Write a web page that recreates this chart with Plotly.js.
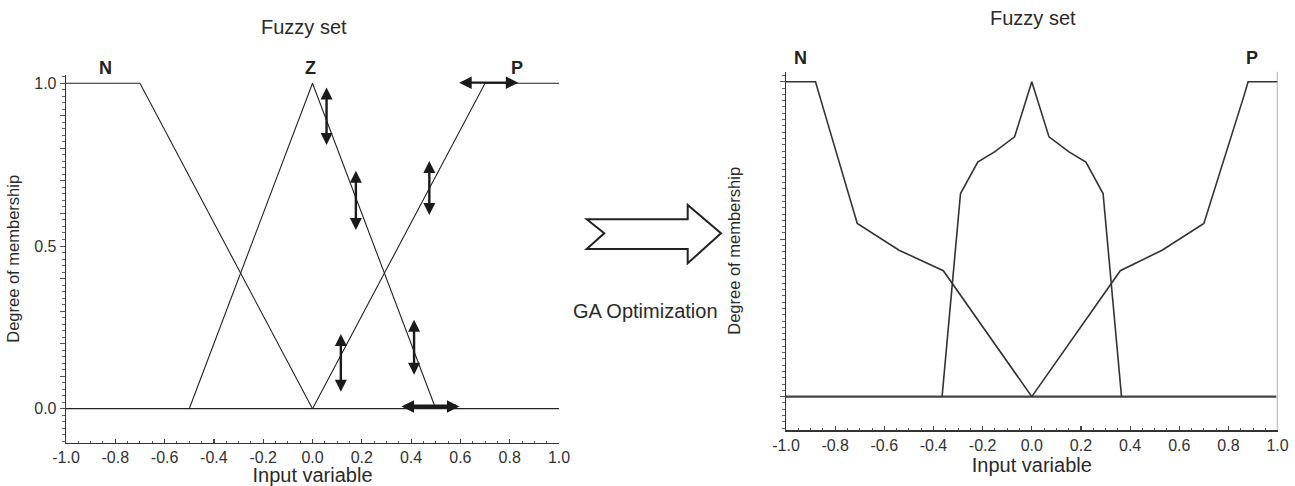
<!DOCTYPE html>
<html>
<head>
<meta charset="utf-8">
<script src="https://cdn.plot.ly/plotly-3.0.1.min.js"></script>
<style>html,body{margin:0;padding:0;background:#fff;}#chart{width:1295px;height:486px;}</style>
</head>
<body>
<div id="chart"></div>
<script>
// ---- Data: initial fuzzy sets (left) ----
const leftN_x = [-1, -0.7, 0];
const leftN_y = [1, 1, 0];
const leftZ_x = [-0.5, 0, 0.5];
const leftZ_y = [0, 1, 0];
const leftP_x = [0, 0.7, 1];
const leftP_y = [0, 1, 1];
const base_x = [-1, 1];
const base_y = [0, 0];

// ---- Data: GA-optimized fuzzy sets (right) ----
const rightN_x = [-1, -0.88, -0.865, -0.71, -0.54, -0.36, 0];
const rightN_y = [1, 1, 0.96, 0.55, 0.465, 0.40, 0];
const rightZ_x = [-0.365, -0.29, -0.22, -0.15, -0.07, 0, 0.07, 0.15, 0.22, 0.29, 0.365];
const rightZ_y = [0, 0.645, 0.745, 0.778, 0.825, 1, 0.825, 0.778, 0.745, 0.645, 0];
const rightP_x = [0, 0.36, 0.53, 0.70, 0.865, 0.88, 1];
const rightP_y = [0, 0.40, 0.465, 0.55, 0.96, 1, 1];
const rightBase_x = [-1, 0.995];
const rightBase_y = [0, 0];

// ---- Adjustment arrows on left plot (vertical) ----
const vArrowX  = [0.057, 0.176, 0.474, 0.115, 0.412];
const vArrowY0 = [0.992, 0.736, 0.766, 0.234, 0.278];
const vArrowY1 = [0.810, 0.549, 0.595, 0.052, 0.104];
// horizontal arrows
const hArrowY  = [1.002, 0.007];
const hArrowX0 = [0.589, 0.355];
const hArrowX1 = [0.835, 0.596];
const hArrowW  = [2.4, 4];

// ---- Labels ----
const leftSetNames = ['N', 'Z', 'P'];
const leftSetLabelX = [-0.84, -0.01, 0.83];
const rightSetNames = ['N', 'P'];
const rightSetLabelX = [-0.94, 0.897];

// ---- Ticks ----
const xTickVals = [-1, -0.8, -0.6, -0.4, -0.2, 0, 0.2, 0.4, 0.6, 0.8, 1];
const xTickText = ['-1.0', '-0.8', '-0.6', '-0.4', '-0.2', '0.0', '0.2', '0.4', '0.6', '0.8', '1.0'];
const yTickVals = [0, 0.1, 0.2, 0.3, 0.4, 0.5, 0.6, 0.7, 0.8, 0.9, 1];
const yTickText = ['0.0', '', '', '', '', '0.5', '', '', '', '', '1.0'];

// ---- Block arrow (page pixels) ----
const blockPx = [586.7, 604.3, 586.7, 687.7, 687.7, 721, 687.7, 687.7];
const blockPy = [219.3, 233.3, 249, 249, 263.3, 233.3, 205, 219.3];

const W = 1295, H = 486;
const FONT = 'Arial, "Liberation Sans", sans-serif';
const TXT = '#2a2a2a';

function line(x, y, xa, ya, color, width) {
  return {type: 'scatter', mode: 'lines', x: x, y: y, xaxis: xa, yaxis: ya,
          line: {color: color, width: width}, hoverinfo: 'skip'};
}

const traces = [
  line(base_x, base_y, 'x', 'y', '#222', 1.3),
  line(leftN_x, leftN_y, 'x', 'y', '#222', 1.1),
  line(leftZ_x, leftZ_y, 'x', 'y', '#222', 1.1),
  line(leftP_x, leftP_y, 'x', 'y', '#222', 1.1),
  line(rightBase_x, rightBase_y, 'x2', 'y2', '#444', 2.4),
  line(rightN_x, rightN_y, 'x2', 'y2', '#333', 1.6),
  line(rightZ_x, rightZ_y, 'x2', 'y2', '#333', 1.6),
  line(rightP_x, rightP_y, 'x2', 'y2', '#333', 1.6)
];

const annotations = [];
for (let i = 0; i < vArrowX.length; i++) {
  annotations.push({xref: 'x', yref: 'y', axref: 'x', ayref: 'y',
    x: vArrowX[i], y: vArrowY1[i], ax: vArrowX[i], ay: vArrowY0[i],
    text: '', showarrow: true, arrowside: 'end+start', arrowhead: 2,
    arrowsize: 1.0, arrowwidth: 2.4, arrowcolor: '#1a1a1a', standoff: 0, startstandoff: 0});
}
for (let i = 0; i < hArrowY.length; i++) {
  annotations.push({xref: 'x', yref: 'y', axref: 'x', ayref: 'y',
    x: hArrowX1[i], y: hArrowY[i], ax: hArrowX0[i], ay: hArrowY[i],
    text: '', showarrow: true, arrowside: 'end+start', arrowhead: 2,
    arrowsize: 2.5 / hArrowW[i], arrowwidth: hArrowW[i], arrowcolor: '#1a1a1a', standoff: 0, startstandoff: 0});
}
leftSetNames.forEach((t, i) => annotations.push({xref: 'x', yref: 'paper', x: leftSetLabelX[i], y: 1 - 67.8 / H,
  xanchor: 'center', yanchor: 'middle',
  text: '<b>' + t + '</b>', showarrow: false, font: {family: FONT, size: 18, color: '#222'}}));
rightSetNames.forEach((t, i) => annotations.push({xref: 'x2', yref: 'paper', x: rightSetLabelX[i], y: 1 - 58.3 / H,
  xanchor: 'center', yanchor: 'middle',
  text: '<b>' + t + '</b>', showarrow: false, font: {family: FONT, size: 18, color: '#222'}}));
annotations.push({xref: 'paper', yref: 'paper', x: 304 / W, y: 1 - 27 / H, xanchor: 'center', yanchor: 'middle',
  text: 'Fuzzy set', showarrow: false, font: {family: FONT, size: 20, color: TXT}});
annotations.push({xref: 'paper', yref: 'paper', x: 1033 / W, y: 1 - 18.3 / H, xanchor: 'center', yanchor: 'middle',
  text: 'Fuzzy set', showarrow: false, font: {family: FONT, size: 20, color: TXT}});
annotations.push({xref: 'paper', yref: 'paper', x: 645.7 / W, y: 1 - 311 / H, xanchor: 'center', yanchor: 'middle',
  text: 'GA Optimization', showarrow: false, font: {family: FONT, size: 20, color: TXT}});

let path = '';
for (let i = 0; i < blockPx.length; i++) {
  path += (i === 0 ? 'M' : 'L') + (blockPx[i] / W).toFixed(5) + ',' + (1 - blockPy[i] / H).toFixed(5);
}
path += 'Z';

const shapes = [
  {type: 'path', xref: 'paper', yref: 'paper', path: path, line: {color: '#222', width: 2}, fillcolor: 'rgba(0,0,0,0)'},
  {type: 'line', xref: 'x2', yref: 'y2 domain', x0: 1, x1: 1, y0: 0, y1: 1, line: {color: '#999', width: 1.5}}
];

function xAxis(domain, anchor, standoff) {
  return {domain: domain, anchor: anchor, range: [-1, 1], showgrid: false, zeroline: false,
    showline: true, linecolor: '#333', linewidth: 1.5,
    ticks: 'inside', ticklen: 4, tickwidth: 1.2, tickcolor: '#444',
    tickmode: 'array', tickvals: xTickVals, ticktext: xTickText,
    tickfont: {family: FONT, size: 16, color: '#333'},
    minor: {tickmode: 'linear', tick0: 0, dtick: 0.05, ticks: 'inside', ticklen: 2, tickcolor: '#555', tickwidth: 1},
    title: {text: 'Input variable', font: {family: FONT, size: 20, color: TXT}, standoff: standoff},
    automargin: false, fixedrange: true};
}
function yAxis(domain, anchor, range, showLabels, standoff) {
  return {domain: domain, anchor: anchor, range: range, showgrid: false, zeroline: false,
    showline: true, linecolor: '#333', linewidth: 1.3,
    ticks: 'outside', ticklen: 5, tickwidth: 1, tickcolor: '#555',
    tickmode: 'array', tickvals: yTickVals, ticktext: yTickText, showticklabels: showLabels,
    tickfont: {family: FONT, size: 16, color: '#333'},
    minor: {tickmode: 'linear', tick0: 0, dtick: 0.02, ticks: 'outside', ticklen: 3, tickcolor: '#666', tickwidth: 1},
    title: {text: 'Degree of membership', font: {family: FONT, size: 16.5, color: TXT}, standoff: standoff},
    automargin: false, fixedrange: true};
}

const layout = {
  width: W, height: H, margin: {l: 0, r: 0, t: 0, b: 0},
  paper_bgcolor: '#fff', plot_bgcolor: '#fff', showlegend: false,
  xaxis: xAxis([66 / W, 559 / W], 'y', 2),
  yaxis: yAxis([1 - 442.7 / H, 1 - 75 / H], 'x', [-0.1045, 1.0255], true, 10),
  xaxis2: xAxis([786 / W, 1277.6 / W], 'y2', 5),
  yaxis2: yAxis([1 - 430 / H, 1 - 71.7 / H], 'x2', [-0.106, 1.032], false, 35),
  annotations: annotations, shapes: shapes
};

Plotly.newPlot('chart', traces, layout, {staticPlot: true, displayModeBar: false});
</script>
</body>
</html>
